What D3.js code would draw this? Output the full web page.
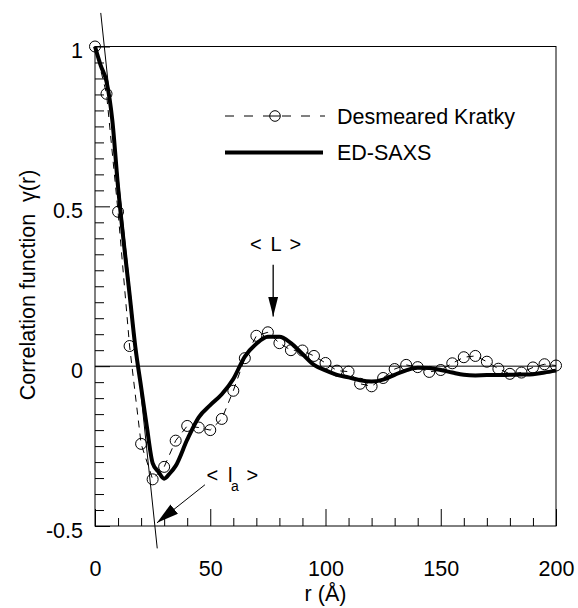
<!DOCTYPE html>
<html>
<head>
<meta charset="utf-8">
<script src="https://cdn.jsdelivr.net/npm/d3@7"></script>
<style>
  html, body { margin: 0; padding: 0; background: #fff; }
  svg { display: block; font-family: "Liberation Sans", Arial, Helvetica, sans-serif; }
</style>
</head>
<body>
<svg id="chart" width="578" height="608"></svg>
<script>
// ---- data ----
const kratkyR = [0, 5, 10, 15, 20, 25, 30, 35, 40, 45, 50, 55, 60, 65, 70, 75, 80, 85, 90, 95,
  100, 105, 110, 115, 120, 125, 130, 135, 140, 145, 150, 155, 160, 165, 170, 175, 180, 185, 190, 195, 200];
const kratkyG = [1.0, 0.852, 0.483, 0.063, -0.243, -0.354, -0.315, -0.233, -0.187, -0.192, -0.200, -0.165,
  -0.077, 0.025, 0.095, 0.106, 0.072, 0.050, 0.049, 0.032, 0.010, -0.014, -0.017, -0.055, -0.063, -0.037,
  -0.009, 0.004, -0.003, -0.018, -0.012, 0.009, 0.028, 0.032, 0.014, -0.008, -0.024, -0.020, -0.004, 0.006, 0.002];

const edR = [0, 2.5, 5, 7.5, 10, 12.5, 15, 17.5, 20, 22.5, 25, 27.5, 30, 32.5, 35, 40, 45, 50, 55, 60,
  65, 70, 75, 80, 85, 90, 95, 100, 105, 110, 115, 120, 125, 130, 135, 140, 145, 150, 155, 160, 165, 170,
  175, 180, 185, 190, 195, 200];
const edG = [1.0, 0.94, 0.89, 0.77, 0.56, 0.385, 0.225, 0.06, -0.065, -0.19, -0.303, -0.33, -0.352, -0.335,
  -0.312, -0.23, -0.16, -0.122, -0.088, -0.04, 0.03, 0.07, 0.092, 0.092, 0.072, 0.038, 0.004, -0.013,
  -0.027, -0.035, -0.044, -0.048, -0.042, -0.027, -0.013, -0.005, -0.006, -0.012, -0.020, -0.027, -0.029,
  -0.028, -0.028, -0.027, -0.026, -0.025, -0.020, -0.014];

// tangent line (intercept construction) endpoints, data coords
const tangentR = [2.5, 27.0];
const tangentG = [1.105, -0.57];

const xMajorTicks = [0, 50, 100, 150, 200];
const yMajorTicks = [-0.5, 0, 0.5, 1];
const seriesNames = ["Desmeared Kratky", "ED-SAXS"];
const xTitle = "r (\u00C5)";
const yTitle = "Correlation function  \u03B3(r)";

// ---- layout ----
const svg = d3.select("#chart");
const FONT = 21.5;
const x = d3.scaleLinear().domain([0, 200]).range([95, 556]);
const y = d3.scaleLinear().domain([-0.5, 1]).range([526, 46.5]);

// zero line
svg.append("line")
  .attr("x1", x(0)).attr("x2", x(200)).attr("y1", y(0)).attr("y2", y(0))
  .attr("stroke", "#000").attr("stroke-width", 1);

// minor ticks
const xMinor = d3.range(10, 200, 10).filter(v => v % 50 !== 0);
const yMinor = d3.range(-0.45, 1.0, 0.05).filter(v => Math.abs(v * 2 - Math.round(v * 2)) > 1e-6);

svg.append("g").attr("transform", `translate(0,${y(-0.5)})`)
  .call(d3.axisBottom(x).tickValues(xMinor).tickSizeInner(-8).tickSizeOuter(0).tickFormat(""))
  .call(g => g.select(".domain").remove());
svg.append("g").attr("transform", `translate(0,${y(-0.5)})`)
  .call(d3.axisBottom(x).tickValues(xMajorTicks).tickSizeInner(-17).tickSizeOuter(0)
    .tickPadding(34.5).tickFormat(d => String(d)))
  .call(g => g.select(".domain").remove())
  .call(g => g.selectAll("text").attr("font-size", FONT).attr("fill", "#000").attr("font-family", null));

svg.append("g").attr("transform", `translate(${x(0)},0)`)
  .call(d3.axisLeft(y).tickValues(yMinor).tickSizeInner(-9).tickSizeOuter(0).tickFormat(""))
  .call(g => g.select(".domain").remove());
svg.append("g").attr("transform", `translate(${x(0)},0)`)
  .call(d3.axisLeft(y).tickValues(yMajorTicks).tickSizeInner(-15).tickSizeOuter(0)
    .tickPadding(12).tickFormat(d => String(d)))
  .call(g => g.select(".domain").remove())
  .call(g => g.selectAll("text").attr("font-size", FONT).attr("fill", "#000").attr("dy", "0.53em").attr("font-family", null));

svg.selectAll(".tick line").attr("stroke", "#000").attr("stroke-width", 1);

// frame
svg.append("rect")
  .attr("x", x(0)).attr("y", y(1))
  .attr("width", x(200) - x(0)).attr("height", y(-0.5) - y(1))
  .attr("fill", "none").attr("stroke", "#000").attr("stroke-width", 1);

// tangent line
svg.append("line")
  .attr("x1", x(tangentR[0])).attr("y1", y(tangentG[0]))
  .attr("x2", x(tangentR[1])).attr("y2", y(tangentG[1]))
  .attr("stroke", "#000").attr("stroke-width", 1);

// Kratky dashed line + circles
const kData = kratkyR.map((r, i) => ({ r, g: kratkyG[i] }));
svg.append("path").datum(kData)
  .attr("d", d3.line().x(d => x(d.r)).y(d => y(d.g)))
  .attr("fill", "none").attr("stroke", "#000").attr("stroke-width", 1)
  .attr("stroke-dasharray", "7,6");
svg.append("g").selectAll("circle").data(kData).join("circle")
  .attr("cx", d => x(d.r)).attr("cy", d => y(d.g)).attr("r", 5.5)
  .attr("fill", "none").attr("stroke", "#000").attr("stroke-width", 1);

// ED-SAXS solid line
const eData = edR.map((r, i) => ({ r, g: edG[i] }));
svg.append("path").datum(eData)
  .attr("d", d3.line().x(d => x(d.r)).y(d => y(d.g)).curve(d3.curveMonotoneX))
  .attr("fill", "none").attr("stroke", "#000").attr("stroke-width", 4)
  .attr("stroke-linejoin", "round");

// legend
const lg = svg.append("g");
lg.append("line").attr("x1", 225).attr("x2", 325).attr("y1", 116).attr("y2", 116)
  .attr("stroke", "#000").attr("stroke-width", 1).attr("stroke-dasharray", "9,10");
lg.append("circle").attr("cx", 275).attr("cy", 116).attr("r", 5.3)
  .attr("fill", "#fff").attr("stroke", "#000").attr("stroke-width", 1);
lg.append("line").attr("x1", 270).attr("x2", 280).attr("y1", 116).attr("y2", 116)
  .attr("stroke", "#000").attr("stroke-width", 1);
lg.append("text").attr("x", 337).attr("y", 123.5).attr("font-size", FONT).text(seriesNames[0]);
lg.append("line").attr("x1", 225).attr("x2", 323).attr("y1", 152.5).attr("y2", 152.5)
  .attr("stroke", "#000").attr("stroke-width", 4);
lg.append("text").attr("x", 337).attr("y", 159.5).attr("font-size", FONT).text(seriesNames[1]);

// axis titles
svg.append("text").attr("x", x(100)).attr("y", 601).attr("text-anchor", "middle")
  .attr("font-size", FONT).text(xTitle);
svg.append("text").attr("transform", "translate(35,285) rotate(-90)")
  .attr("text-anchor", "middle").attr("font-size", FONT).attr("xml:space", "preserve").text(yTitle);

// arrowheads
const defs = svg.append("defs");
defs.append("marker").attr("id", "ah").attr("viewBox", "0 0 20 10")
  .attr("refX", 20).attr("refY", 5).attr("markerWidth", 20).attr("markerHeight", 10)
  .attr("markerUnits", "userSpaceOnUse").attr("orient", "auto")
  .append("path").attr("d", "M0,0 L20,5 L0,10 Z").attr("fill", "#000");
defs.append("marker").attr("id", "ah2").attr("viewBox", "0 0 22 12")
  .attr("refX", 22).attr("refY", 6).attr("markerWidth", 22).attr("markerHeight", 12)
  .attr("markerUnits", "userSpaceOnUse").attr("orient", "auto")
  .append("path").attr("d", "M0,0 L22,6 L0,12 Z").attr("fill", "#000");

// <L> annotation
svg.append("line").attr("x1", x(77.3)).attr("x2", x(77.3)).attr("y1", y(0.317)).attr("y2", y(0.155))
  .attr("stroke", "#000").attr("stroke-width", 1.3).attr("marker-end", "url(#ah)");
const tL = svg.append("text").attr("y", y(0.36)).attr("font-size", 20);
tL.append("tspan").attr("x", 250).text("<");
tL.append("tspan").attr("x", 270.5).text("L");
tL.append("tspan").attr("x", 289.5).text(">");

// <l_a> annotation
svg.append("line").attr("x1", x(47.7)).attr("y1", y(-0.371)).attr("x2", x(26.9)).attr("y2", y(-0.49))
  .attr("stroke", "#000").attr("stroke-width", 1).attr("marker-end", "url(#ah2)");
const tA = svg.append("text").attr("y", y(-0.362)).attr("font-size", 20);
tA.append("tspan").attr("x", 206.5).text("<");
tA.append("tspan").attr("x", 228).text("l");
tA.append("tspan").attr("x", 231).attr("dy", 9).attr("font-size", 14).text("a");
tA.append("tspan").attr("x", 246.5).attr("dy", -9).text(">");
</script>
</body>
</html>
